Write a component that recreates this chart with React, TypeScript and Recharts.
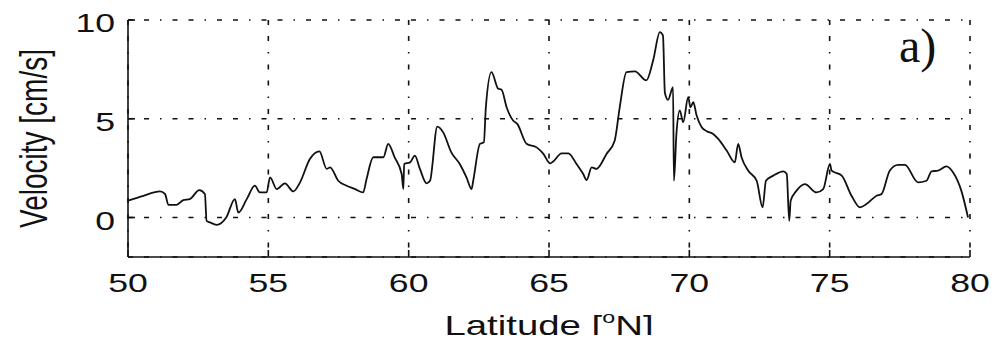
import { LineChart, Line, XAxis, YAxis, CartesianGrid } from "recharts";

const latitude = [
  50.0, 50.55, 51.14, 51.32, 51.44, 51.73, 51.97, 52.2, 52.54, 52.74, 52.8, 52.92, 53.16, 53.5,
  53.81, 53.93, 54.23, 54.52, 54.7, 54.94, 55.06, 55.3, 55.59, 55.89, 56.13, 56.48, 56.82, 57.08,
  57.2, 57.49, 57.79, 58.09, 58.38, 58.5, 58.74, 59.1, 59.27, 59.5, 59.75, 59.81, 59.84, 60.05,
  60.22, 60.4, 60.64, 60.76, 61.02, 61.23, 61.52, 61.82, 62.06, 62.24, 62.3, 62.54, 62.68, 62.75,
  62.95, 63.19, 63.31, 63.49, 63.72, 63.87, 64.2, 64.56, 64.8, 65.04, 65.15, 65.45, 65.69, 65.98,
  66.22, 66.34, 66.52, 66.69, 67.05, 67.34, 67.52, 67.76, 68.06, 68.47, 68.71, 68.95, 69.06,
  69.13, 69.24, 69.42, 69.45, 69.54, 69.66, 69.78, 69.96, 70.04, 70.14, 70.26, 70.44, 70.62,
  70.85, 71.03, 71.33, 71.62, 71.74, 71.86, 72.1, 72.4, 72.61, 72.73, 72.99, 73.35, 73.47, 73.56,
  73.61, 73.82, 74.12, 74.53, 74.77, 75.01, 75.07, 75.43, 75.78, 76.08, 76.31, 76.67, 76.85,
  77.14, 77.44, 77.68, 78.15, 78.45, 78.63, 78.86, 79.16, 79.4, 79.69, 79.93,
];

const velocity = [
  0.85, 1.1, 1.32, 1.19, 0.64, 0.64, 0.88, 0.93, 1.39, 1.19, -0.17, -0.25, -0.37, 0.0,
  0.93, 0.25, 0.93, 1.61, 1.27, 1.27, 2.03, 1.44, 1.73, 1.32, 1.78, 2.96, 3.35, 2.46,
  2.54, 1.86, 1.61, 1.44, 1.27, 1.95, 3.05, 3.05, 3.73, 3.05, 2.2, 1.44, 2.71, 2.79,
  3.13, 2.46, 1.73, 1.86, 4.6, 4.31, 3.3, 2.71, 2.03, 1.44, 1.86, 3.73, 3.81, 5.58,
  7.36, 6.52, 6.47, 5.58, 4.91, 4.74, 3.73, 3.55, 3.22, 2.74, 2.84, 3.25, 3.25, 2.71,
  2.2, 1.9, 2.54, 2.46, 3.22, 3.89, 5.58, 7.36, 7.4, 6.94, 7.95, 9.39, 9.22,
  6.3, 5.96, 6.6, 1.86, 4.23, 5.42, 4.82, 6.09, 5.58, 5.84, 5.16, 4.57, 4.37,
  4.23, 3.98, 3.39, 2.79, 3.73, 3.05, 2.37, 1.86, 0.51, 1.86, 2.12, 2.34, 2.2, -0.17,
  0.85, 1.36, 1.69, 1.27, 1.44, 2.71, 2.37, 2.12, 1.1, 0.51, 0.68, 1.1, 1.19,
  2.37, 2.66, 2.66, 1.78, 1.86, 2.34, 2.37, 2.59, 2.28, 1.36, 0.0,
];

const xTicks = [50, 55, 60, 65, 70, 75, 80];
const yTicks = [0, 5, 10];

const data = latitude.map((lat, i) => ({ lat, v: velocity[i] }));

const FONT = "'Liberation Sans', Arial, Helvetica, sans-serif";
const STRETCH = 1.37;

function XTick(props: any) {
  const { x, y, payload } = props;
  const label = String(payload.value);
  return (
    <g transform={`translate(${x},${y + 35}) scale(${STRETCH},1)`}>
      <text textAnchor="middle" fontFamily={FONT} fontSize={26} fill="#111">
        {label}
      </text>
    </g>
  );
}

function YTick(props: any) {
  const { x, y, payload } = props;
  return (
    <g transform={`translate(${x - 13},${y + 12}) scale(${STRETCH},1)`}>
      <text textAnchor="end" fontFamily={FONT} fontSize={26} fill="#111">
        {String(payload.value)}
      </text>
    </g>
  );
}

function XTitle(props: any) {
  const vb = props.viewBox;
  const cx = vb.x + vb.width / 2;
  return (
    <g transform={`translate(${cx},${vb.y + 78}) scale(${STRETCH},1)`}>
      <text textAnchor="middle" fontFamily={FONT} fontSize={28} fill="#111">
        Latitude [
        <tspan fontSize={17} dy={-12}>o</tspan>
        <tspan dy={12}>N]</tspan>
      </text>
    </g>
  );
}

function YTitle(props: any) {
  const vb = props.viewBox;
  const cy = vb.y + vb.height / 2;
  return (
    <g transform={`translate(47,${cy}) scale(${STRETCH},1) rotate(-90)`}>
      <text textAnchor="middle" fontFamily={FONT} fontSize={28} fill="#111">
        Velocity [cm/s]
      </text>
    </g>
  );
}

const frame = { stroke: "#111", strokeWidth: 1.6 };

export default function App() {
  return (
    <div style={{ position: "relative", width: 1008, height: 343, margin: -8, background: "#fff" }}>
      <LineChart width={1008} height={343} data={data} margin={{ top: 20, right: 38, bottom: 0, left: 0 }}>
        <CartesianGrid stroke="#111" strokeWidth={1.6} strokeDasharray="5 11 5 11 1.5 11" />
        <XAxis
          dataKey="lat"
          type="number"
          domain={[50, 80]}
          ticks={xTicks}
          interval={0}
          height={86}
          tickSize={-7}
          tickMargin={7}
          axisLine={frame}
          tickLine={frame}
          tick={<XTick />}
          label={{ content: (p: any) => <XTitle {...p} /> }}
        />
        <XAxis
          xAxisId="top"
          orientation="top"
          dataKey="lat"
          type="number"
          domain={[50, 80]}
          ticks={xTicks}
          interval={0}
          height={0}
          tickSize={-7}
          axisLine={frame}
          tickLine={frame}
          tick={false}
        />
        <YAxis
          type="number"
          domain={[-2, 10]}
          ticks={yTicks}
          interval={0}
          width={128}
          tickSize={-7}
          tickMargin={7}
          axisLine={frame}
          tickLine={frame}
          tick={<YTick />}
          label={{ content: (p: any) => <YTitle {...p} /> }}
        />
        <YAxis
          yAxisId="right"
          orientation="right"
          type="number"
          domain={[-2, 10]}
          ticks={yTicks}
          interval={0}
          width={0}
          tickSize={-7}
          axisLine={frame}
          tickLine={frame}
          tick={false}
        />
        <Line
          type="monotoneX"
          dataKey="v"
          stroke="#111"
          strokeWidth={1.8}
          dot={false}
          isAnimationActive={false}
        />
      </LineChart>
      <svg width={1008} height={343} style={{ position: "absolute", left: 0, top: 0, pointerEvents: "none" }}>
        <text x={899} y={62} fontFamily="'Liberation Serif', 'Times New Roman', serif" fontSize={48} fill="#111">
          a)
        </text>
      </svg>
    </div>
  );
}
